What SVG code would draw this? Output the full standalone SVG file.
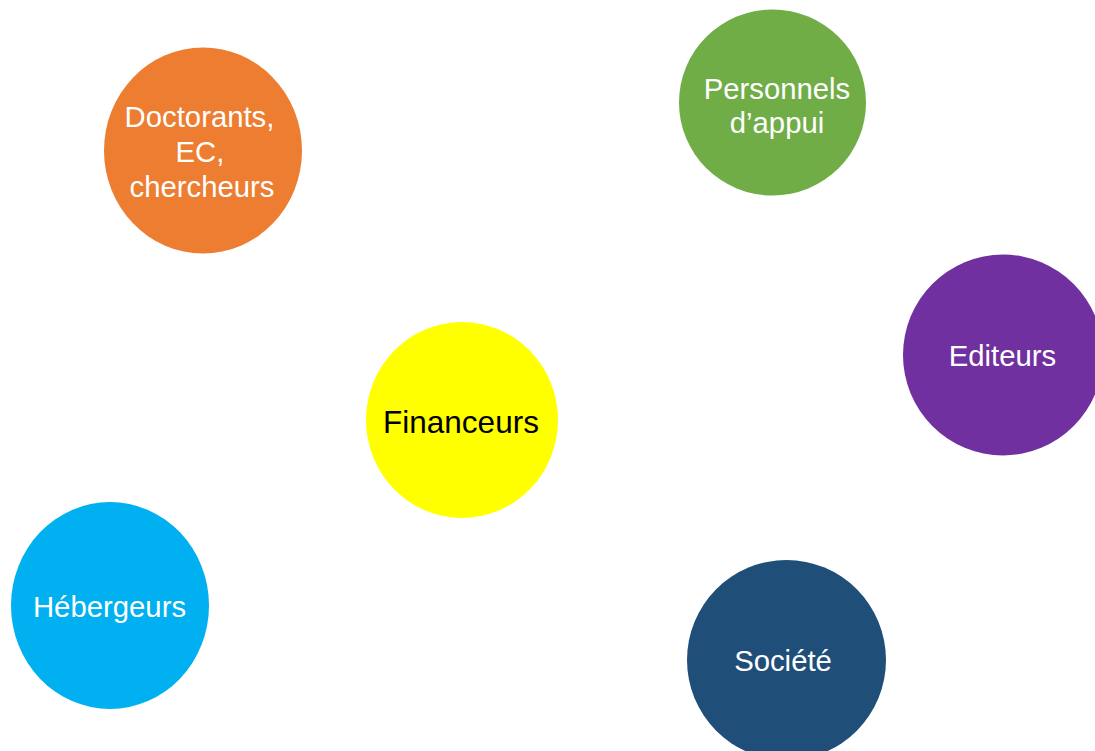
<svg xmlns="http://www.w3.org/2000/svg" width="1095" height="751" viewBox="0 0 1095 751">
<style>
text{font-family:"Liberation Sans",Arial,sans-serif;font-size:29.3px;fill:#fff;text-anchor:middle}
.dark{fill:#000;font-size:31.5px}
</style>
<rect width="1095" height="751" fill="#fff"/>
<g id="connectors"></g>
<g id="doctorants">
<ellipse cx="203" cy="150.5" rx="99" ry="103" fill="#ED7D31"/>
<text x="199.5" y="127">Doctorants,</text>
<text x="200" y="162">EC,</text>
<text x="202" y="197">chercheurs</text>
</g>
<g id="personnels">
<ellipse cx="772.5" cy="102.5" rx="93.5" ry="93" fill="#70AD47"/>
<text x="777" y="99">Personnels</text>
<text x="777" y="133">d’appui</text>
</g>
<g id="editeurs">
<ellipse cx="1003" cy="355" rx="100" ry="100.5" fill="#7030A0"/>
<text x="1002.5" y="366">Editeurs</text>
</g>
<g id="financeurs">
<ellipse cx="462" cy="420" rx="96" ry="98" fill="#FFFF00"/>
<text class="dark" x="461" y="433">Financeurs</text>
</g>
<g id="hebergeurs">
<ellipse cx="110" cy="605.5" rx="99" ry="103.5" fill="#00B0F0"/>
<text x="109.5" y="617">Hébergeurs</text>
</g>
<g id="societe">
<ellipse cx="786.5" cy="660" rx="99.5" ry="100" fill="#1F4E79"/>
<text x="783" y="671">Société</text>
</g>
</svg>
